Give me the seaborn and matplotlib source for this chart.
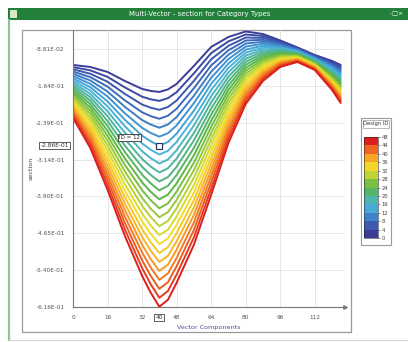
import numpy as np
import pandas as pd
import seaborn as sns
import matplotlib.pyplot as plt
from matplotlib.colors import LinearSegmentedColormap, BoundaryNorm
from matplotlib.patches import Rectangle
from matplotlib.lines import Line2D
import matplotlib.cm as cm

# vector component positions (x) shared by all designs
x_comp = [0, 8, 16, 24, 32, 36, 40, 44, 48, 56, 64, 72, 80, 88, 96, 104, 112, 120, 124]

# section value per design id
sec_id00 = [-0.1208, -0.1249, -0.1351, -0.1535, -0.1698, -0.1739, -0.1760, -0.1708, -0.1596, -0.1228, -0.0840, -0.0636, -0.0523, -0.0575, -0.0707, -0.0850, -0.1004, -0.1126, -0.1208]
sec_id02 = [-0.1253, -0.1318, -0.1451, -0.1667, -0.1857, -0.1911, -0.1943, -0.1887, -0.1765, -0.1380, -0.0966, -0.0726, -0.0585, -0.0615, -0.0730, -0.0862, -0.1017, -0.1151, -0.1240]
sec_id04 = [-0.1298, -0.1387, -0.1552, -0.1799, -0.2017, -0.2083, -0.2126, -0.2067, -0.1935, -0.1533, -0.1092, -0.0817, -0.0647, -0.0655, -0.0752, -0.0875, -0.1030, -0.1175, -0.1273]
sec_id06 = [-0.1343, -0.1456, -0.1652, -0.1931, -0.2176, -0.2255, -0.2309, -0.2246, -0.2104, -0.1685, -0.1218, -0.0907, -0.0708, -0.0695, -0.0775, -0.0887, -0.1042, -0.1200, -0.1305]
sec_id08 = [-0.1389, -0.1525, -0.1753, -0.2063, -0.2335, -0.2427, -0.2492, -0.2425, -0.2274, -0.1838, -0.1344, -0.0997, -0.0770, -0.0735, -0.0797, -0.0900, -0.1055, -0.1225, -0.1337]
sec_id10 = [-0.1434, -0.1594, -0.1853, -0.2195, -0.2494, -0.2599, -0.2675, -0.2604, -0.2443, -0.1990, -0.1470, -0.1087, -0.0832, -0.0775, -0.0820, -0.0912, -0.1068, -0.1250, -0.1370]
sec_id12 = [-0.1479, -0.1663, -0.1954, -0.2327, -0.2654, -0.2771, -0.2858, -0.2784, -0.2613, -0.2143, -0.1596, -0.1178, -0.0894, -0.0815, -0.0843, -0.0924, -0.1081, -0.1274, -0.1402]
sec_id14 = [-0.1524, -0.1732, -0.2054, -0.2459, -0.2813, -0.2943, -0.3041, -0.2963, -0.2782, -0.2295, -0.1722, -0.1268, -0.0955, -0.0855, -0.0865, -0.0937, -0.1093, -0.1299, -0.1434]
sec_id16 = [-0.1569, -0.1801, -0.2155, -0.2591, -0.2972, -0.3115, -0.3224, -0.3142, -0.2952, -0.2447, -0.1848, -0.1358, -0.1017, -0.0895, -0.0888, -0.0949, -0.1106, -0.1324, -0.1467]
sec_id18 = [-0.1614, -0.1870, -0.2255, -0.2723, -0.3131, -0.3287, -0.3407, -0.3321, -0.3121, -0.2600, -0.1974, -0.1448, -0.1079, -0.0935, -0.0910, -0.0961, -0.1119, -0.1348, -0.1499]
sec_id20 = [-0.1659, -0.1939, -0.2356, -0.2855, -0.3291, -0.3459, -0.3590, -0.3501, -0.3291, -0.2752, -0.2100, -0.1539, -0.1141, -0.0975, -0.0933, -0.0974, -0.1132, -0.1373, -0.1531]
sec_id22 = [-0.1704, -0.2008, -0.2456, -0.2987, -0.3450, -0.3631, -0.3773, -0.3680, -0.3460, -0.2905, -0.2226, -0.1629, -0.1202, -0.1015, -0.0955, -0.0986, -0.1144, -0.1398, -0.1564]
sec_id24 = [-0.1750, -0.2077, -0.2557, -0.3119, -0.3609, -0.3803, -0.3957, -0.3859, -0.3630, -0.3057, -0.2352, -0.1719, -0.1264, -0.1055, -0.0978, -0.0999, -0.1157, -0.1422, -0.1596]
sec_id26 = [-0.1795, -0.2146, -0.2657, -0.3250, -0.3768, -0.3975, -0.4140, -0.4038, -0.3799, -0.3209, -0.2478, -0.1809, -0.1326, -0.1095, -0.1001, -0.1011, -0.1170, -0.1447, -0.1628]
sec_id28 = [-0.1840, -0.2214, -0.2757, -0.3382, -0.3928, -0.4147, -0.4323, -0.4218, -0.3968, -0.3362, -0.2604, -0.1900, -0.1388, -0.1135, -0.1023, -0.1023, -0.1183, -0.1472, -0.1661]
sec_id30 = [-0.1885, -0.2283, -0.2858, -0.3514, -0.4087, -0.4319, -0.4506, -0.4397, -0.4138, -0.3514, -0.2730, -0.1990, -0.1449, -0.1175, -0.1046, -0.1036, -0.1195, -0.1497, -0.1693]
sec_id32 = [-0.1930, -0.2352, -0.2958, -0.3646, -0.4246, -0.4491, -0.4689, -0.4576, -0.4307, -0.3667, -0.2856, -0.2080, -0.1511, -0.1215, -0.1068, -0.1048, -0.1208, -0.1521, -0.1725]
sec_id34 = [-0.1975, -0.2421, -0.3059, -0.3778, -0.4405, -0.4663, -0.4872, -0.4755, -0.4477, -0.3819, -0.2982, -0.2170, -0.1573, -0.1255, -0.1091, -0.1060, -0.1221, -0.1546, -0.1758]
sec_id36 = [-0.2020, -0.2490, -0.3159, -0.3910, -0.4565, -0.4835, -0.5055, -0.4935, -0.4646, -0.3972, -0.3108, -0.2261, -0.1635, -0.1295, -0.1113, -0.1073, -0.1234, -0.1571, -0.1790]
sec_id38 = [-0.2065, -0.2559, -0.3260, -0.4042, -0.4724, -0.5007, -0.5238, -0.5114, -0.4816, -0.4124, -0.3234, -0.2351, -0.1696, -0.1335, -0.1136, -0.1085, -0.1246, -0.1595, -0.1822]
sec_id40 = [-0.2111, -0.2628, -0.3360, -0.4174, -0.4883, -0.5179, -0.5421, -0.5293, -0.4985, -0.4276, -0.3360, -0.2441, -0.1758, -0.1375, -0.1159, -0.1098, -0.1259, -0.1620, -0.1855]
sec_id42 = [-0.2156, -0.2697, -0.3461, -0.4306, -0.5042, -0.5351, -0.5604, -0.5472, -0.5155, -0.4429, -0.3486, -0.2531, -0.1820, -0.1415, -0.1181, -0.1110, -0.1272, -0.1645, -0.1887]
sec_id44 = [-0.2201, -0.2766, -0.3561, -0.4438, -0.5202, -0.5523, -0.5787, -0.5652, -0.5324, -0.4581, -0.3612, -0.2622, -0.1882, -0.1455, -0.1204, -0.1122, -0.1285, -0.1669, -0.1920]
sec_id46 = [-0.2246, -0.2835, -0.3662, -0.4570, -0.5361, -0.5695, -0.5970, -0.5831, -0.5494, -0.4734, -0.3738, -0.2712, -0.1943, -0.1495, -0.1226, -0.1135, -0.1297, -0.1694, -0.1952]
sec_id48 = [-0.2291, -0.2904, -0.3762, -0.4702, -0.5520, -0.5867, -0.6153, -0.6010, -0.5663, -0.4886, -0.3864, -0.2802, -0.2005, -0.1535, -0.1249, -0.1147, -0.1310, -0.1719, -0.1984]

design_ids = list(range(0, 49, 2))
sections = [sec_id00, sec_id02, sec_id04, sec_id06, sec_id08, sec_id10, sec_id12, sec_id14,
            sec_id16, sec_id18, sec_id20, sec_id22, sec_id24, sec_id26, sec_id28, sec_id30,
            sec_id32, sec_id34, sec_id36, sec_id38, sec_id40, sec_id42, sec_id44, sec_id46,
            sec_id48]

ytick_vals = [-0.0881, -0.1635, -0.2389, -0.3143, -0.3897, -0.4651, -0.5405, -0.6159]
xtick_vals = [0, 16, 32, 48, 64, 80, 96, 112]
cbar_ticks = [0, 4, 8, 12, 16, 20, 24, 28, 32, 36, 40, 44, 48]

# probe shown on the chart
probe_id = 12
probe_x = 40
probe_y = -0.2858

rows = []
for did, sec in zip(design_ids, sections):
    for xv, yv in zip(x_comp, sec):
        rows.append({"design": did, "x": xv, "section": yv})
df = pd.DataFrame(rows)

rainbow = LinearSegmentedColormap.from_list("design", [
    "#3a3d98", "#3d5cb4", "#3f8ed0", "#4bb6da", "#4fb48c", "#5bb646",
    "#a2cc3a", "#f3e22a", "#f8b127", "#f06a22", "#dc1e1e"])

W, H = 408, 342
fig = plt.figure(figsize=(W / 100, H / 100), dpi=100)
fig.patch.set_facecolor("white")

def px(x0, y0, w, h):
    # pixel box (top-left origin) -> figure fraction
    return [x0 / W, 1 - (y0 + h) / H, w / W, h / H]

# window chrome
fig.add_artist(Rectangle((8 / W, 1 - 20 / H), 400 / W, 12 / H, transform=fig.transFigure,
                         facecolor="#23803a", edgecolor="none", zorder=-2))
fig.add_artist(Rectangle((10 / W, 1 - 18 / H), 7 / W, 8 / H, transform=fig.transFigure,
                         facecolor="#d8e8c8", edgecolor="none", zorder=-1))
fig.text(200 / W, 1 - 14 / H, "Multi-Vector - section for Category Types", color="white",
         fontsize=5, ha="center", va="center")
fig.text(404 / W, 1 - 14 / H, "\u2013\u25a1\u00d7", color="white", fontsize=4.5, ha="right", va="center")
fig.add_artist(Line2D([9 / W, 9 / W], [1 - 20 / H, 1 - 340 / H], transform=fig.transFigure,
                      color="#8fc596", lw=1.6, zorder=-1))
fig.add_artist(Line2D([9 / W, 408 / W], [1 - 340 / H, 1 - 340 / H], transform=fig.transFigure,
                      color="#d8d8d8", lw=0.8, zorder=-1))
# panel frame
fig.add_artist(Rectangle((22 / W, 1 - 332 / H), 329 / W, 302 / H, transform=fig.transFigure,
                         facecolor="none", edgecolor="#9a9a9a", lw=0.9, zorder=-1))

sns.set_style("white")
ax = fig.add_axes(px(73, 30, 272, 277))
ax.patch.set_alpha(0)
sns.lineplot(data=df, x="x", y="section", hue="design", palette=rainbow, hue_norm=(0, 48),
             legend=False, estimator=None, lw=1.4, ax=ax)

ax.set_xlim(0, 126)
ax.set_ylim(-0.6159, -0.0493)
ax.set_xticks(xtick_vals)
ax.set_xticks(range(8, 126, 16), minor=True)
ax.set_yticks(ytick_vals)
ax.set_yticks([v - 0.0377 for v in ytick_vals[:-1]], minor=True)
ax.set_yticklabels(["{:.2E}".format(v) for v in ytick_vals])
ax.tick_params(axis="both", which="major", labelsize=4.2, colors="#555555", length=2.5, width=0.6)
ax.tick_params(axis="both", which="minor", length=1.5, width=0.5, colors="#777777")
ax.grid(True, which="major", color="#e2e2e2", lw=0.6)
ax.set_axisbelow(True)
for s in ["top", "right"]:
    ax.spines[s].set_visible(False)
for s in ["left", "bottom"]:
    ax.spines[s].set_color("#777777")
    ax.spines[s].set_linewidth(0.8)
ax.plot([1.0], [0.0], marker=">", ms=2.5, color="#777777", transform=ax.transAxes, clip_on=False)
ax.set_xlabel("Vector Components", fontsize=4.6, color="#4b4f9e", labelpad=3)
ax.set_ylabel("section", fontsize=4.6, color="#444444", labelpad=2)

# probe marker and readouts
ax.plot([probe_x], [probe_y], marker="s", ms=4.5, mfc="white", mec="#2b3a66", mew=0.9, zorder=5)
ax.annotate("ID = {}".format(probe_id), (probe_x, probe_y), xytext=(-14, 4), textcoords="offset points",
            fontsize=4, ha="right", va="bottom", color="#222222",
            bbox=dict(boxstyle="square,pad=0.25", fc="white", ec="#333333", lw=0.6))
ax.text(-0.015, probe_y, "{:.2E}".format(probe_y), transform=ax.get_yaxis_transform(),
        fontsize=4.2, ha="right", va="center", color="#333333",
        bbox=dict(boxstyle="square,pad=0.2", fc="white", ec="#444444", lw=0.6))
ax.text(probe_x, -0.028, str(probe_x), transform=ax.get_xaxis_transform(),
        fontsize=4.2, ha="center", va="top", color="#333333",
        bbox=dict(boxstyle="square,pad=0.2", fc="white", ec="#444444", lw=0.6))

# design id color legend
fig.add_artist(Rectangle((361 / W, 1 - 245 / H), 30 / W, 127 / H, transform=fig.transFigure,
                         facecolor="white", edgecolor="#9a9a9a", lw=0.8, zorder=-1))
fig.add_artist(Rectangle((363 / W, 1 - 128 / H), 26 / W, 8 / H, transform=fig.transFigure,
                         facecolor="none", edgecolor="#9a9a9a", lw=0.5, zorder=-1))
fig.text(376 / W, 1 - 124 / H, "Design ID", fontsize=3.8, ha="center", va="center", color="#333333")
cax = fig.add_axes(px(364, 137, 14, 101))
norm = BoundaryNorm(cbar_ticks, rainbow.N)
cb = fig.colorbar(cm.ScalarMappable(norm=norm, cmap=rainbow), cax=cax, ticks=cbar_ticks)
cb.outline.set_linewidth(0.4)
cb.ax.tick_params(labelsize=3.8, length=1.5, width=0.4, colors="#444444", pad=1)

fig.savefig("out.png", dpi=100)
